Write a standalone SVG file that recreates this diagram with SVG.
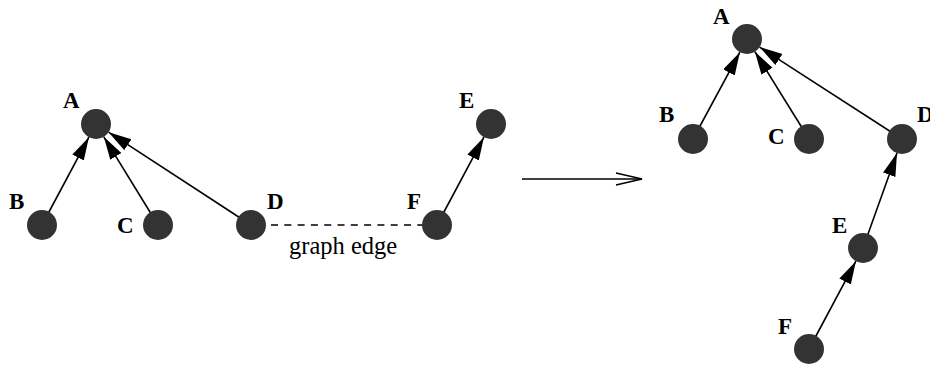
<svg xmlns="http://www.w3.org/2000/svg" width="930" height="367" viewBox="0 0 930 367">
<style>
.n{fill:#333333}
.lb{font-family:"Liberation Serif",serif;font-weight:bold;font-size:23px;fill:#000}
.t{font-family:"Liberation Serif",serif;font-size:24.5px;fill:#000}
.e{stroke:#000;stroke-width:1.6;fill:none}
</style>
<defs>
<marker id="ah" markerUnits="userSpaceOnUse" markerWidth="24" markerHeight="14" refX="23" refY="6.5" orient="auto" viewBox="0 0 24 14">
<path d="M0,0 L23,6.5 L0,13 z" fill="#000"/>
</marker>
</defs>
<g id="connectors">
<line class="e" x1="42" y1="225" x2="88.9" y2="137.2" marker-end="url(#ah)"/>
<line class="e" x1="158" y1="225" x2="103.8" y2="136.8" marker-end="url(#ah)"/>
<line class="e" x1="251" y1="225" x2="108.6" y2="132.2" marker-end="url(#ah)"/>
<line class="e" x1="437" y1="225" x2="483.9" y2="137.2" marker-end="url(#ah)"/>
<line x1="266" y1="225" x2="422" y2="225" stroke="#000" stroke-width="1.6" stroke-dasharray="7 6.3" stroke-dashoffset="-5"/>
<line class="e" x1="693" y1="139" x2="739.9" y2="52.2" marker-end="url(#ah)"/>
<line class="e" x1="809" y1="139" x2="754.9" y2="51.7" marker-end="url(#ah)"/>
<line class="e" x1="902" y1="139" x2="759.6" y2="47.1" marker-end="url(#ah)"/>
<line class="e" x1="863" y1="248" x2="897" y2="153.1" marker-end="url(#ah)"/>
<line class="e" x1="809" y1="349" x2="855.9" y2="261.2" marker-end="url(#ah)"/>
<line class="e" x1="522" y1="179" x2="642" y2="179"/>
<path class="e" d="M616,173 L642,179 L616,185"/>
</g>
<text class="t" x="289" y="254">graph edge</text>
<g id="L_A"><circle class="n" cx="96" cy="124" r="15"/><text class="lb" x="63" y="108">A</text></g>
<g id="L_B"><circle class="n" cx="42" cy="225" r="15"/><text class="lb" x="9" y="209">B</text></g>
<g id="L_C"><circle class="n" cx="158" cy="225" r="15"/><text class="lb" x="117" y="233">C</text></g>
<g id="L_D"><circle class="n" cx="251" cy="225" r="15"/><text class="lb" x="267" y="209">D</text></g>
<g id="L_E"><circle class="n" cx="491" cy="124" r="15"/><text class="lb" x="459" y="108">E</text></g>
<g id="L_F"><circle class="n" cx="437" cy="225" r="15"/><text class="lb" x="407" y="209">F</text></g>
<g id="R_A"><circle class="n" cx="747" cy="39" r="15"/><text class="lb" x="713" y="24">A</text></g>
<g id="R_B"><circle class="n" cx="693" cy="139" r="15"/><text class="lb" x="659" y="122">B</text></g>
<g id="R_C"><circle class="n" cx="809" cy="139" r="15"/><text class="lb" x="768" y="144">C</text></g>
<g id="R_D"><circle class="n" cx="902" cy="139" r="15"/><text class="lb" x="917" y="122">D</text></g>
<g id="R_E"><circle class="n" cx="863" cy="248" r="15"/><text class="lb" x="832" y="233">E</text></g>
<g id="R_F"><circle class="n" cx="809" cy="349" r="15"/><text class="lb" x="778" y="334">F</text></g>
</svg>
